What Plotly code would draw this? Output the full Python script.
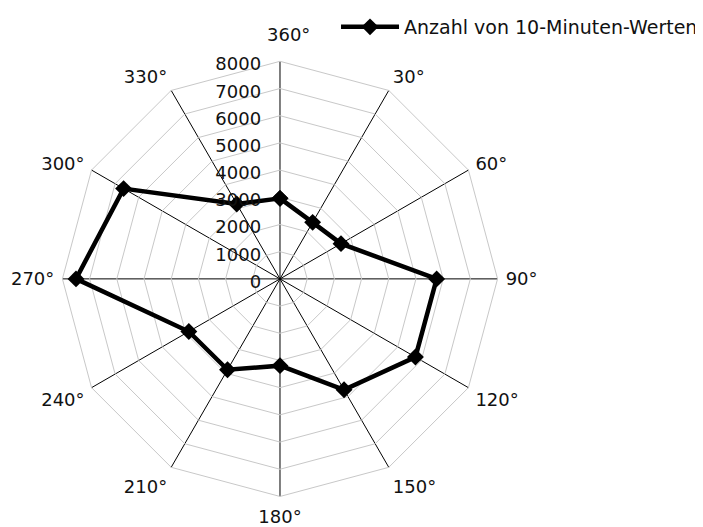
import plotly.graph_objects as go

directions = ["360°", "30°", "60°", "90°", "120°", "150°", "180°",
              "210°", "240°", "270°", "300°", "330°"]
counts = [2960, 2400, 2590, 5760, 5750, 4710, 3190, 3860, 3870, 7500, 6640, 3180]
radial_ticks = [0, 1000, 2000, 3000, 4000, 5000, 6000, 7000, 8000]
series_name = "Anzahl von 10-Minuten-Werten"

# the top label (360°) sits a bit higher, above the 8000 tick, so it is drawn separately
angular_text = ["" if d == directions[0] else d for d in directions]

fig = go.Figure()
fig.add_trace(go.Scatterpolar(
    r=counts + [counts[0]],
    theta=directions + [directions[0]],
    mode="lines+markers",
    name=series_name,
    line=dict(color="black", width=4.5),
    marker=dict(symbol="diamond", size=13, color="black"),
    showlegend=True,
))

font_family = "DejaVu Sans, sans-serif"

fig.add_annotation(
    text=directions[0], xref="paper", yref="paper",
    x=0.3983, y=0.949, xanchor="center", yanchor="middle",
    showarrow=False, font=dict(size=18, color="#111111"),
)

fig.update_layout(
    width=703, height=527,
    paper_bgcolor="white",
    plot_bgcolor="white",
    margin=dict(l=0, r=0, t=0, b=0),
    font=dict(family=font_family, size=18, color="#111111"),
    showlegend=True,
    legend=dict(
        x=0.4666, y=0.964, xref="paper", yref="paper",
        xanchor="left", yanchor="middle",
        font=dict(size=19, color="#111111"),
        bgcolor="rgba(0,0,0,0)",
        itemwidth=58,
    ),
    polar=dict(
        domain=dict(x=[0.0774, 0.6964], y=[0.0710, 0.9010]),
        bgcolor="white",
        gridshape="linear",
        radialaxis=dict(
            range=[0, 8000],
            tickvals=radial_ticks,
            ticktext=[str(v) + "\u00a0" for v in radial_ticks],
            angle=90,
            side="counterclockwise",
            showline=False,
            gridcolor="#c8c8c8",
            gridwidth=1,
            ticks="",
            tickfont=dict(size=18, color="#111111"),
        ),
        angularaxis=dict(
            type="category",
            categoryarray=directions,
            tickvals=directions,
            ticktext=angular_text,
            direction="clockwise",
            rotation=90,
            gridcolor="black",
            gridwidth=1,
            linecolor="#c8c8c8",
            linewidth=1,
            ticks="outside",
            ticklen=4,
            tickcolor="rgba(0,0,0,0)",
            tickfont=dict(size=18, color="#111111"),
        ),
    ),
)

fig.write_html("out.html")
